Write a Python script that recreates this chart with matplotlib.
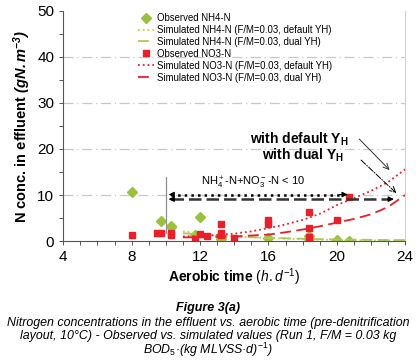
import matplotlib
matplotlib.use("Agg")
import matplotlib.pyplot as plt
import numpy as np

plt.rcParams["font.family"] = ["Liberation Sans", "DejaVu Sans"]
plt.rcParams["mathtext.fontset"] = "custom"
plt.rcParams["mathtext.rm"] = "Liberation Sans"
plt.rcParams["mathtext.it"] = "Liberation Sans:italic"
plt.rcParams["mathtext.bf"] = "Liberation Sans:bold"
plt.rcParams["mathtext.sf"] = "Liberation Sans:bold:italic"

# observed values
nh4_obs_x = [8.0, 9.7, 10.3, 10.3, 11.7, 12.0, 13.2, 13.2, 16.0, 18.4, 18.4, 20.0, 20.7]
nh4_obs_y = [10.6, 4.4, 3.3, 3.1, 1.3, 5.3, 0.5, 0.8, 0.6, 0.4, 1.2, 0.2, 0.1]
no3_obs_x = [8.0, 9.5, 9.7, 10.3, 10.3, 11.7, 12.0, 12.4, 13.2, 13.2, 13.2, 14.0,
             16.0, 16.0, 18.4, 18.4, 18.4, 20.0, 20.7]
no3_obs_y = [1.3, 1.7, 1.75, 1.3, 1.7, 0.4, 1.5, 1.2, 3.6, 1.8, 1.3, 0.7,
             4.5, 3.8, 6.4, 2.8, 0.9, 4.6, 9.6]

# simulated values
sim_x = [11, 12, 13, 14, 15, 16, 17, 18, 19, 20, 21, 22, 23, 24]
nh4_default = [2.1, 1.7, 1.3, 1.0, 0.8, 0.65, 0.5, 0.4, 0.3, 0.25, 0.2, 0.15, 0.12, 0.1]
nh4_dual = [1.7, 1.4, 1.2, 1.0, 0.85, 0.7, 0.6, 0.5, 0.4, 0.35, 0.3, 0.25, 0.22, 0.2]
no3_default = [1.0, 1.1, 1.3, 1.6, 2.1, 2.8, 3.6, 4.6, 5.9, 7.8, 9.3, 10.9, 12.8, 15.6]
no3_dual = [0.8, 0.8, 0.9, 1.0, 1.2, 1.4, 1.9, 2.5, 3.2, 4.0, 4.8, 5.8, 7.4, 10.0]

xticks = [4, 8, 12, 16, 20, 24]
yticks = [0, 10, 20, 30, 40, 50]

green = "#9bc13c"
green_l = "#b8d43a"
red = "#e8202a"

fig = plt.figure(figsize=(4.16, 3.63), dpi=100)
ax = fig.add_axes([0.152, 0.336, 0.822, 0.634])

for y in yticks[1:-1]:
    ax.axhline(y, color="#c8c8c8", lw=0.9, ls=(0, (8, 3, 1, 3)), zorder=0)

ax.plot(nh4_obs_x, nh4_obs_y, "D", color=green, ms=4.8, ls="none", label="Observed NH4-N")
ax.plot(sim_x, nh4_default, ":", color=green_l, lw=1.3, label="Simulated NH4-N (F/M=0.03, default YH)")
ax.plot(sim_x, nh4_dual, "--", color="#a9c95a", lw=1.3, dashes=(6, 3), label="Simulated NH4-N (F/M=0.03, dual YH)")
ax.plot(no3_obs_x, no3_obs_y, "s", color=red, ms=5, ls="none", label="Observed NO3-N")
ax.plot(sim_x, no3_default, ":", color=red, lw=1.3, label="Simulated NO3-N (F/M=0.03, default YH)")
ax.plot(sim_x, no3_dual, "--", color=red, lw=1.3, dashes=(6, 3), label="Simulated NO3-N (F/M=0.03, dual YH)")

# annotations
ax.plot([10, 10], [1.8, 14], color="#909090", lw=0.9)
ax.plot([10.3, 20.3], [10.1, 10.1], ":", color="black", lw=1.8)
ax.plot([10.3, 23.1], [9.1, 9.1], "--", color="#333333", lw=1.8, dashes=(5, 2))
for xa, xb, yy in [(10.6, 10.0, 10.1), (20.0, 20.8, 10.1), (10.6, 10.0, 9.1), (22.8, 23.5, 9.1)]:
    ax.annotate("", xy=(xb, yy), xytext=(xa, yy),
                arrowprops=dict(arrowstyle="-|>", color="black", lw=0.8, mutation_scale=8))
ax.text(15.1, 12.7, r"NH$_4^+$-N+NO$_3^-$-N < 10", fontsize=8, ha="center", va="center")
ax.text(20.7, 22.2, r"with default Y$_\mathbf{H}$", fontsize=10, fontweight="bold", ha="right", va="center")
ax.text(20.4, 18.7, r"with dual Y$_\mathbf{H}$", fontsize=10, fontweight="bold", ha="right", va="center")
ax.annotate("", xy=(23.2, 15.0), xytext=(21.2, 22.6),
            arrowprops=dict(arrowstyle="->", color="#333333", lw=0.7))
ax.annotate("", xy=(23.6, 10.0), xytext=(21.3, 18.0),
            arrowprops=dict(arrowstyle="->", color="black", lw=0.7, ls="-."))

ax.set_xlim(4, 24)
ax.set_ylim(0, 50)
ax.set_xticks(xticks)
ax.set_yticks(yticks)
ax.set_xticks(np.arange(4, 25, 1), minor=True)
ax.set_yticks(np.arange(0, 51, 5), minor=True)
ax.tick_params(which="both", direction="out", length=3, width=0.7, color="#555555", labelsize=11)
ax.spines["top"].set_visible(False)
ax.spines["right"].set_color("#d0d0d0")
ax.spines["left"].set_color("#555555")
ax.spines["bottom"].set_color("#555555")

ax.set_xlabel(r"Aerobic time $\mathit{(h.d^{-1})}$", fontsize=10, fontweight="bold", labelpad=2)
ax.set_ylabel(r"N conc. in effluent $\mathsf{(gN.m^{-3})}$", fontsize=10.5, fontweight="bold", labelpad=3)

ax.legend(loc="upper left", bbox_to_anchor=(0.2, 1.02), frameon=False, fontsize=6.9,
          handlelength=1.6, handletextpad=0.3, labelspacing=0.2, borderpad=0.2, numpoints=1)

fig.text(0.5, 1 - 308 / 363, "Figure 3(a)", fontsize=9, fontweight="bold", style="italic",
         ha="center", va="center")
fig.text(0.5, 1 - 323 / 363, "Nitrogen concentrations in the effluent vs. aerobic time (pre-denitrification",
         fontsize=8.9, style="italic", ha="center", va="center")
fig.text(0.5, 1 - 336 / 363, "layout, 10°C) - Observed vs. simulated values (Run 1, F/M = 0.03 kg",
         fontsize=8.9, style="italic", ha="center", va="center")
fig.text(0.5, 1 - 350 / 363, r"BOD$_\mathit{5}$·(kg MLVSS·d)$^\mathit{-1}$)",
         fontsize=8.9, style="italic", ha="center", va="center")

fig.savefig("out.png", dpi=100)
